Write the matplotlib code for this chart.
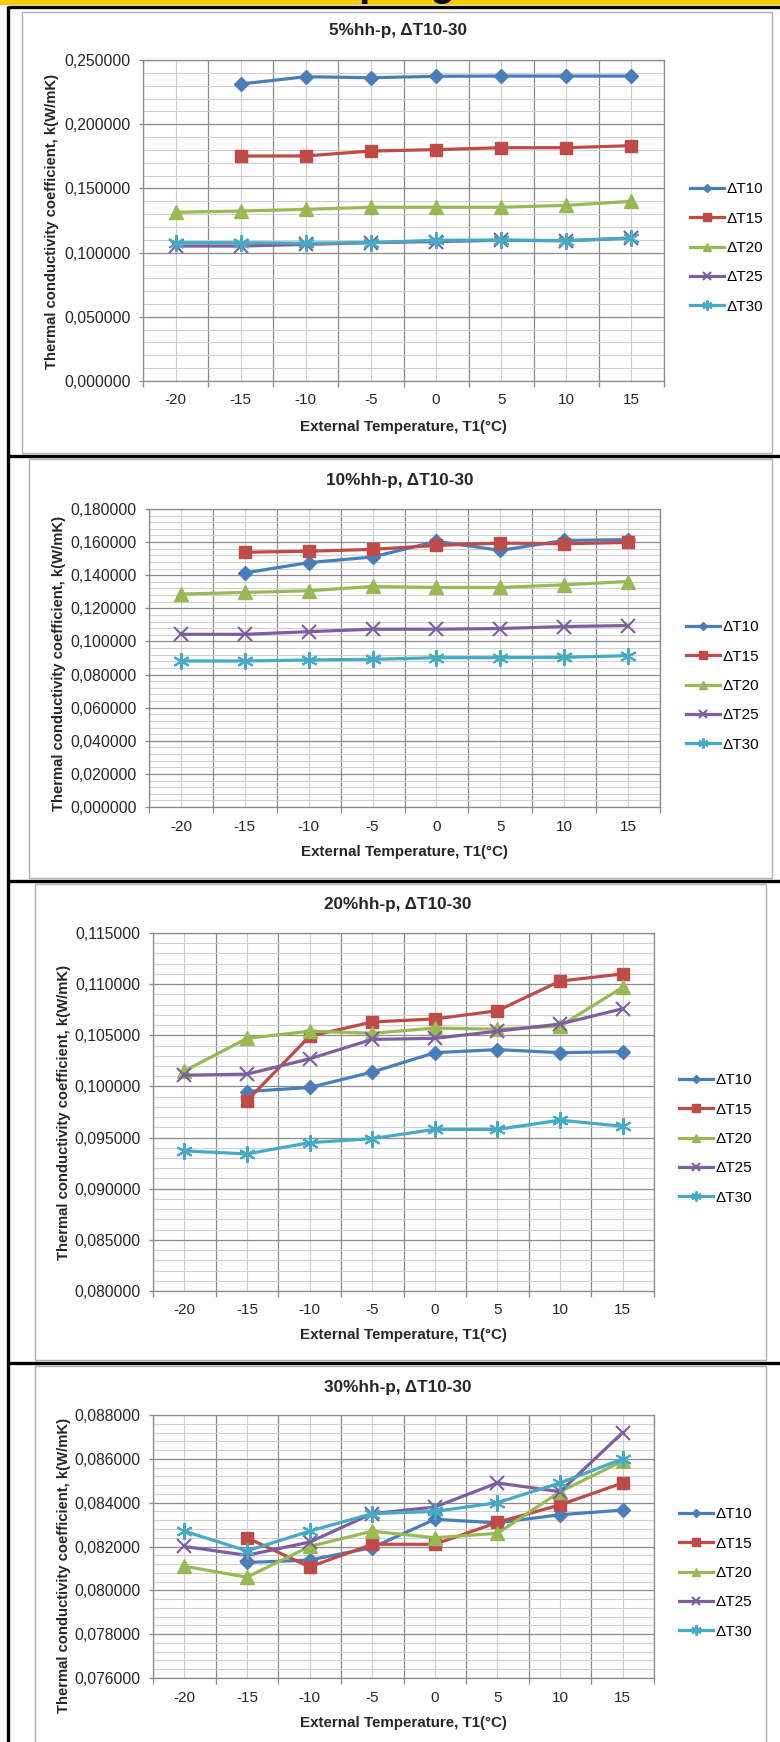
import numpy as np
import matplotlib
matplotlib.use('Agg')
import matplotlib.pyplot as plt
from matplotlib.ticker import MultipleLocator, FixedLocator, FuncFormatter
from matplotlib.patches import Rectangle

plt.rcParams['font.family'] = ['Liberation Sans', 'DejaVu Sans']

nan = np.nan
temps = [-20, -15, -10, -5, 0, 5, 10, 15]
temp_labels = ['-20', '-15', '-10', '-5', '0', '5', '10', '15']
series_names = ['ΔT10', 'ΔT15', 'ΔT20', 'ΔT25', 'ΔT30']

# 5% hh-p
p5_dT10 = [nan, 0.2313, 0.2370, 0.2362, 0.2373, 0.2375, 0.2375, 0.2375]
p5_dT15 = [nan, 0.1752, 0.1753, 0.1791, 0.1802, 0.1817, 0.1817, 0.1833]
p5_dT20 = [0.1314, 0.1324, 0.1337, 0.1353, 0.1353, 0.1353, 0.1368, 0.1399]
p5_dT25 = [0.1051, 0.1051, 0.1064, 0.1077, 0.1086, 0.1096, 0.1092, 0.1113]
p5_dT30 = [0.1077, 0.1077, 0.1073, 0.1078, 0.1096, 0.1098, 0.1093, 0.1114]

# 10% hh-p
p10_dT10 = [nan, 0.1414, 0.1476, 0.1510, 0.1605, 0.1550, 0.1610, 0.1615]
p10_dT15 = [nan, 0.1539, 0.1545, 0.1556, 0.1580, 0.1594, 0.1590, 0.1598]
p10_dT20 = [0.1286, 0.1296, 0.1306, 0.1332, 0.1326, 0.1326, 0.1342, 0.1362]
p10_dT25 = [0.1043, 0.1043, 0.1059, 0.1074, 0.1074, 0.1078, 0.1090, 0.1096]
p10_dT30 = [0.0882, 0.0882, 0.0888, 0.0892, 0.0902, 0.0902, 0.0904, 0.0914]

# 20% hh-p
p20_dT10 = [nan, 0.0995, 0.0999, 0.1014, 0.1033, 0.1036, 0.1033, 0.1034]
p20_dT15 = [nan, 0.0986, 0.1049, 0.1063, 0.1066, 0.1074, 0.1103, 0.1110]
p20_dT20 = [0.1015, 0.1047, 0.1054, 0.1052, 0.1057, 0.1056, 0.1059, 0.1097]
p20_dT25 = [0.1011, 0.1012, 0.1027, 0.1046, 0.1047, 0.1054, 0.1061, 0.1076]
p20_dT30 = [0.0937, 0.0934, 0.0945, 0.0949, 0.0958, 0.0958, 0.0967, 0.0961]

# 30% hh-p
p30_dT10 = [nan, 0.08127, 0.08138, 0.08195, 0.08324, 0.08308, 0.08345, 0.08366]
p30_dT15 = [nan, 0.0824, 0.08107, 0.0821, 0.0821, 0.0831, 0.0839, 0.0849]
p30_dT20 = [0.0811, 0.0806, 0.0820, 0.0827, 0.0824, 0.0826, 0.0845, 0.0859]
p30_dT25 = [0.0820, 0.0816, 0.0822, 0.0835, 0.0838, 0.0849, 0.0845, 0.0872]
p30_dT30 = [0.0827, 0.0818, 0.0827, 0.0835, 0.0836, 0.0840, 0.0849, 0.0860]

colors = ['#4A7EBB', '#BE4B48', '#98B954', '#7D5FA0', '#46AAC5']
markers = ['D', 's', '^', 'x', (6, 2, 0)]
msizes = [7.5, 9, 10, 10, 12]

W, H = 780, 1742
fig = plt.figure(figsize=(W / 100, H / 100), dpi=100)
fig.patch.set_facecolor('white')


def fx(x):
    return x / W


def fy(y):
    return 1 - y / H


# background decoration layer (pixel coordinates)
bg = fig.add_axes([0, 0, 1, 1], zorder=-5)
bg.set_xlim(0, W)
bg.set_ylim(H, 0)
bg.axis('off')
bg.add_patch(Rectangle((0, 0), W, 5, color='#FFCC00', lw=0))
bg.text(365, -4.5, 'Sampling', ha='center', va='baseline', fontsize=29,
        fontweight='bold', color='black', clip_on=False)
# gray chart frames
for (l, t, r, b) in [(22, 12, 772, 453), (29, 459, 772, 878),
                     (35, 884, 766, 1360), (35, 1366, 766, 1760)]:
    bg.add_patch(Rectangle((l, t), r - l, b - t, fill=False,
                           edgecolor='#b0b0b0', lw=1.0))
# black table lines
bg.plot([8, W], [7.5, 7.5], color='black', lw=2.4, solid_capstyle='butt')
bg.plot([8, 8], [6, H], color='black', lw=2.4, solid_capstyle='butt')
for ysep in [456, 881, 1363]:
    bg.plot([8, W], [ysep, ysep], color='black', lw=2.4, solid_capstyle='butt')

panels = [
    dict(title='5%hh-p, ΔT10-30',
         data=[p5_dT10, p5_dT15, p5_dT20, p5_dT25, p5_dT30],
         ylim=(0.0, 0.25), major=0.05, box=(143, 60, 664, 381),
         title_xy=(398, 31), ylabel_xy=(52, 221), legend_xy=(690, 248),
         xlabel_y=427),
    dict(title='10%hh-p, ΔT10-30',
         data=[p10_dT10, p10_dT15, p10_dT20, p10_dT25, p10_dT30],
         ylim=(0.0, 0.18), major=0.02, box=(149, 509, 660, 807),
         title_xy=(400, 480), ylabel_xy=(59, 663), legend_xy=(686, 686),
         xlabel_y=852),
    dict(title='20%hh-p, ΔT10-30',
         data=[p20_dT10, p20_dT15, p20_dT20, p20_dT25, p20_dT30],
         ylim=(0.08, 0.115), major=0.005, box=(153, 933, 654, 1291),
         title_xy=(398, 905), ylabel_xy=(64, 1112), legend_xy=(679, 1139),
         xlabel_y=1335),
    dict(title='30%hh-p, ΔT10-30',
         data=[p30_dT10, p30_dT15, p30_dT20, p30_dT25, p30_dT30],
         ylim=(0.076, 0.088), major=0.002, box=(153, 1415, 654, 1678),
         title_xy=(398, 1387), ylabel_xy=(64, 1565), legend_xy=(679, 1573),
         xlabel_y=1723),
]

fmt = FuncFormatter(lambda v, p: f"{v:.6f}".replace('.', ','))
grid_major = '#8a8a8a'
grid_minor = '#cfcfcf'

for P in panels:
    l, t, r, b = P['box']
    ax = fig.add_axes([fx(l), fy(b), (r - l) / W, (b - t) / H])
    ax.set_facecolor('white')
    handles = []
    for vals, name, c, m, ms in zip(P['data'], series_names, colors, markers, msizes):
        mew = 1.5 if (m == 'x' or isinstance(m, tuple)) else 1.0
        h, = ax.plot(temps, vals, color=c, lw=2.3, marker=m, markersize=ms,
                     markeredgewidth=mew, markerfacecolor=c, markeredgecolor=c,
                     label=name, zorder=3)
        handles.append(h)
    ax.set_xlim(-22.5, 17.5)
    ax.set_ylim(*P['ylim'])
    ax.xaxis.set_major_locator(FixedLocator(temps))
    ax.set_xticklabels(temp_labels)
    ax.xaxis.set_minor_locator(FixedLocator([x - 2.5 for x in temps] + [17.5]))
    ax.yaxis.set_major_locator(MultipleLocator(P['major']))
    ax.yaxis.set_minor_locator(MultipleLocator(P['major'] / 5))
    ax.yaxis.set_major_formatter(fmt)
    ax.set_axisbelow(True)
    ax.yaxis.grid(True, which='major', color=grid_major, lw=0.9)
    ax.yaxis.grid(True, which='minor', color=grid_minor, lw=0.8)
    ax.xaxis.grid(True, which='major', color=grid_minor, lw=0.8)
    ax.xaxis.grid(True, which='minor', color=grid_major, lw=0.9)
    ax.tick_params(axis='x', which='major', length=0, pad=9, labelsize=11,
                   labelcolor='#262626')
    ax.tick_params(axis='x', which='minor', length=4.5, width=0.9,
                   color=grid_major, direction='out')
    ax.tick_params(axis='y', which='major', length=3, width=0.9,
                   color=grid_major, pad=6, labelsize=11.3, labelcolor='#262626')
    ax.tick_params(axis='y', which='minor', length=0)
    for s in ax.spines.values():
        s.set_color(grid_major)
        s.set_linewidth(0.9)

    fig.text(fx(P['title_xy'][0]), fy(P['title_xy'][1]), P['title'],
             ha='center', va='center', fontsize=12.3, fontweight='bold',
             color='#262626')
    fig.text(fx(P['ylabel_xy'][0]), fy(P['ylabel_xy'][1]),
             'Thermal conductivity coefficient, k(W/mK)', rotation=90,
             ha='center', va='center', fontsize=10.7, fontweight='bold',
             color='#262626')
    fig.text(fx((l + r) / 2), fy(P['xlabel_y']), 'External Temperature, T1(°C)',
             ha='center', va='center', fontsize=10.9, fontweight='bold',
             color='#262626')
    ax.legend(handles=handles, loc='center left',
              bbox_to_anchor=(fx(P['legend_xy'][0]), fy(P['legend_xy'][1])),
              bbox_transform=fig.transFigure, frameon=False, borderpad=0,
              borderaxespad=0, handlelength=2.2, handletextpad=0.2,
              labelspacing=1.0, fontsize=11, markerscale=0.6)

fig.savefig('out.png', dpi=100, facecolor='white')
